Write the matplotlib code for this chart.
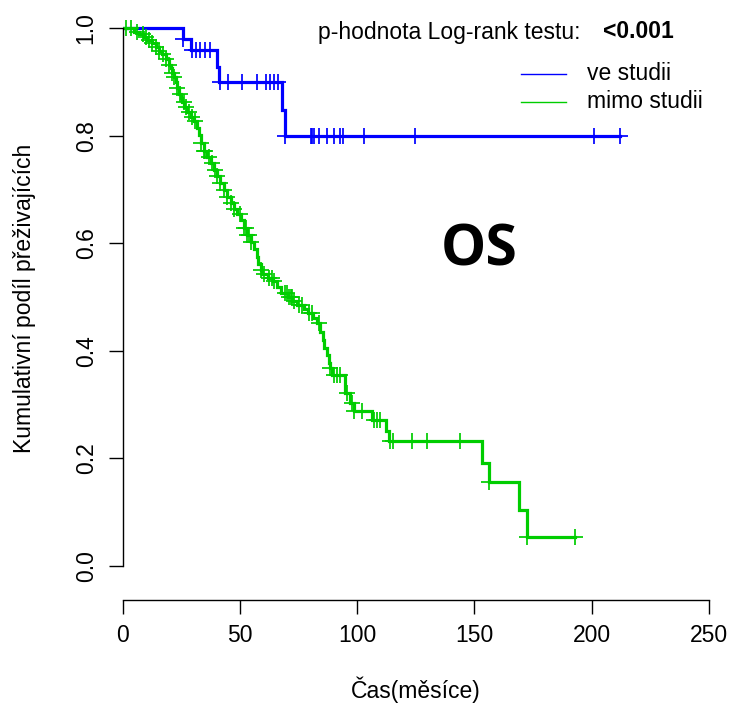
import numpy as np
import matplotlib
matplotlib.use("Agg")
import matplotlib.pyplot as plt

plt.rcParams['font.family'] = ['Liberation Sans', 'DejaVu Sans']

# ---- data ----
blue_event_times = [25.5, 29.0, 40.3, 41.0, 68.0, 69.0]
blue_event_surv = [0.979, 0.959, 0.928, 0.900, 0.848, 0.800]
blue_censor_times = [25.9, 29.6, 31.1, 32.9, 35.0, 37.2,
                     41.3, 45.0, 50.9, 57.3, 61.3, 62.6, 64.4, 66.3,
                     69.4, 80.1, 80.8, 81.5, 83.6, 87.1, 89.9, 92.8, 94.0,
                     102.7, 124.8, 201.0, 212.0]

green_event_times = [4.8, 6.9, 9.1, 10.5, 12.6, 14.1, 15.5, 16.9, 18.3, 19.7,
                     20.4, 21.2, 21.8, 22.6, 23.3, 24.0, 24.7, 25.4, 26.1, 27.6,
                     29.0, 30.4, 31.8, 32.5, 33.2, 34.6, 36.1, 37.5, 38.9, 40.3,
                     41.7, 43.1, 44.6, 46.0, 47.4, 48.9, 50.3, 51.7, 53.1, 54.5,
                     55.9, 57.1, 57.9, 58.8, 59.6, 61.8, 63.9, 66.0, 67.3, 70.3,
                     72.4, 74.5, 77.1, 79.2, 81.3, 83.0, 84.3, 85.2, 86.0, 87.2,
                     87.9, 88.6, 89.3, 95.0, 97.1, 98.5, 106.3, 112.4, 113.4, 153.2,
                     156.0, 168.8, 172.3]
green_event_surv = [0.993, 0.988, 0.983, 0.978, 0.972, 0.965, 0.958, 0.951, 0.942, 0.932,
                    0.925, 0.917, 0.908, 0.899, 0.888, 0.878, 0.869, 0.862, 0.854, 0.843,
                    0.835, 0.827, 0.815, 0.801, 0.786, 0.772, 0.761, 0.749, 0.736, 0.724,
                    0.711, 0.699, 0.686, 0.674, 0.664, 0.655, 0.643, 0.628, 0.616, 0.603,
                    0.590, 0.575, 0.562, 0.550, 0.542, 0.536, 0.530, 0.519, 0.508, 0.500,
                    0.493, 0.485, 0.477, 0.470, 0.461, 0.451, 0.435, 0.420, 0.405, 0.392,
                    0.378, 0.368, 0.355, 0.321, 0.303, 0.289, 0.271, 0.251, 0.233, 0.192,
                    0.156, 0.104, 0.054]
green_censor_times = [1.3, 3.5, 6.3, 8.5, 9.8, 11.2, 12.6, 14.1, 15.5, 17.0, 18.3, 19.7,
                      21.2, 21.8, 23.3, 24.5, 26.0, 27.0, 28.2, 29.7, 31.0, 33.2, 34.6,
                      35.3, 36.8, 38.2, 39.5, 40.3, 41.7, 43.1, 44.6, 46.0, 47.4, 50.0,
                      51.7, 52.4, 53.1, 53.8, 54.5, 58.8, 60.2, 62.3, 63.8, 64.4, 69.4,
                      70.1, 70.8, 71.6, 72.3, 73.0, 75.1, 76.5, 79.3, 80.8, 83.6, 88.6,
                      90.0, 91.4, 92.5, 95.7, 97.8, 98.5, 102.1, 107.0, 108.5, 109.9,
                      113.8, 115.3, 123.4, 129.8, 144.0, 156.3, 172.6, 192.9]

x_ticks = [0, 50, 100, 150, 200, 250]
y_ticks = [0.0, 0.2, 0.4, 0.6, 0.8, 1.0]
y_tick_labels = ["0.0", "0.2", "0.4", "0.6", "0.8", "1.0"]
series_names = ["ve studii", "mimo studii"]
colors = ["#0000FF", "#00CD00"]

W, H = 733, 703
fig = plt.figure(figsize=(W / 100, H / 100), dpi=100)
left_px, right_px, top_px, bottom_px = 122.7, 733.0, 10.0, 600.0
ax = fig.add_axes([left_px / W, 1 - bottom_px / H,
                   (right_px - left_px) / W, (bottom_px - top_px) / H])
ax.set_xlim(0, 250 * (right_px - left_px) / (709 - left_px))
ax.set_ylim(-(bottom_px - 566) / 538, 1 + (28 - top_px) / 538)


def km_curve(ev_t, ev_s, cens_t, color):
    ev_t = np.asarray(ev_t)
    ev_s = np.asarray(ev_s)
    cens_t = np.asarray(cens_t)
    end = max(ev_t.max(), cens_t.max())
    xs = np.concatenate([[0], ev_t, [end]])
    ys = np.concatenate([[1.0], ev_s, [ev_s[-1]]])
    ax.step(xs, ys, where='post', color=color, lw=2.3, solid_joinstyle='miter')
    idx = np.searchsorted(ev_t, cens_t, side='right')
    cs = np.where(idx == 0, 1.0, ev_s[np.maximum(idx - 1, 0)])
    ax.plot(cens_t, cs, ls='none', marker='+', ms=12, mew=1.25, color=color)


km_curve(blue_event_times, blue_event_surv, blue_censor_times, colors[0])
km_curve(green_event_times, green_event_surv, green_censor_times, colors[1])

for s in ['top', 'right']:
    ax.spines[s].set_visible(False)
ax.spines['left'].set_bounds(0, 1)
ax.spines['bottom'].set_bounds(0, 250)
for s in ['left', 'bottom']:
    ax.spines[s].set_linewidth(1.0)

ax.set_xticks(x_ticks)
ax.set_xticklabels([str(v) for v in x_ticks], fontsize=16.5)
ax.set_yticks(y_ticks)
ax.set_yticklabels(y_tick_labels, fontsize=16.5, rotation=90, va='center')
ax.tick_params(axis='both', length=10, width=1.0, direction='out')
ax.tick_params(axis='x', pad=7)
ax.tick_params(axis='y', pad=8)

fig.text(416 / W, 1 - 690 / H, "Čas(měsíce)", ha='center', va='center', fontsize=16.5)
fig.text(25 / W, 1 - 298 / H, "Kumulativní podíl přeživajících", ha='center', va='center',
         rotation=90, fontsize=16.5)

fig.text(318 / W, 1 - 32 / H, "p-hodnota Log-rank testu:", ha='left', va='center', fontsize=16.5)
fig.text(603 / W, 1 - 32 / H, "<0.001", ha='left', va='center', fontsize=16.5, fontweight='bold')

leg_y = [73.5, 102.0]
for name, col, ly in zip(series_names, colors, leg_y):
    fig.add_artist(plt.Line2D([520.7 / W, 565.7 / W], [1 - ly / H, 1 - ly / H], color=col, lw=1.0))
    fig.text(586.7 / W, 1 - ly / H, name, ha='left', va='center', fontsize=16.5)

fig.text(479 / W, 1 - 250 / H, "OS", ha='center', va='center', fontsize=41,
         fontweight='bold', family=['Open Sans', 'DejaVu Sans'])

fig.savefig("out.png", dpi=100)
